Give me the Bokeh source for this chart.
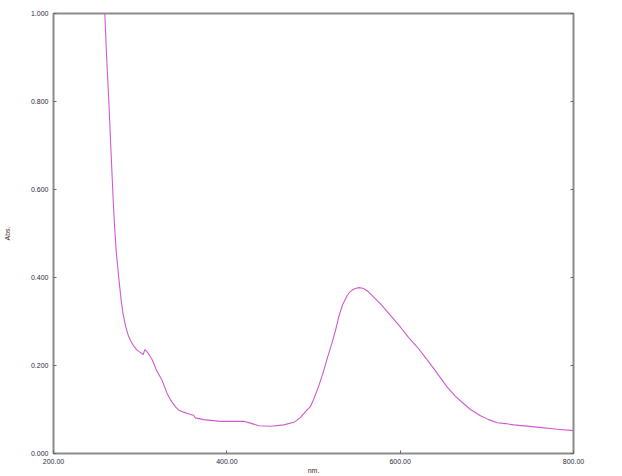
from bokeh.plotting import figure
from bokeh.models import LinearAxis, Range1d, FixedTicker, NumeralTickFormatter
from bokeh.embed import file_html
from bokeh.resources import INLINE

# Wavelength (nm) and absorbance
wavelength = [257.9, 259.2, 261.2, 263.8, 266.3, 268.9, 270.4, 272.3, 275.0, 278.1,
              280.2, 283.1, 286.0, 288.8, 292.3, 295.8, 299.2, 303.5, 305.3, 308.5,
              313.9, 318.8, 325.4, 331.2, 335.0, 340.8, 344.2, 350.0, 354.6, 361.5,
              363.8, 373.1, 392.7, 400.0, 406.5, 415.8, 419.6, 427.3, 436.9, 450.4,
              465.7, 477.3, 479.2, 485.0, 490.8, 496.5, 500.3, 505.8, 511.9, 516.1,
              521.6, 525.4, 529.2, 533.5, 538.9, 541.5, 545.0, 548.5, 552.3, 555.4,
              557.7, 563.8, 577.3, 588.8, 600.4, 609.6, 619.7, 629.2, 638.8, 654.3,
              663.8, 673.4, 681.2, 692.7, 702.0, 711.9, 721.5, 731.1, 758.1, 781.2,
              799.7]
absorbance = [1.050, 1.000, 0.905, 0.802, 0.689, 0.575, 0.518, 0.461, 0.405, 0.348,
              0.318, 0.290, 0.270, 0.257, 0.245, 0.236, 0.231, 0.225, 0.236, 0.230,
              0.213, 0.189, 0.166, 0.136, 0.122, 0.106, 0.099, 0.094, 0.091, 0.087,
              0.081, 0.077, 0.073, 0.073, 0.073, 0.073, 0.0734, 0.069, 0.063, 0.062,
              0.065, 0.071, 0.073, 0.082, 0.095, 0.107, 0.124, 0.152, 0.189, 0.218,
              0.253, 0.280, 0.311, 0.338, 0.359, 0.366, 0.372, 0.375, 0.377, 0.376,
              0.375, 0.367, 0.340, 0.314, 0.287, 0.264, 0.242, 0.218, 0.193, 0.151,
              0.130, 0.113, 0.100, 0.086, 0.077, 0.070, 0.068, 0.065, 0.060, 0.055,
              0.052]

x_ticks = [200, 400, 600, 800]
y_ticks = [0.0, 0.2, 0.4, 0.6, 0.8, 1.0]

p = figure(width=620, height=476, output_backend="svg", toolbar_location=None,
           x_range=Range1d(200, 800), y_range=Range1d(0, 1.0),
           min_border_left=53, min_border_right=47, min_border_top=13, min_border_bottom=23)

p.line(wavelength, absorbance, line_color="#d05ad0", line_width=1.1)

p.grid.visible = False
p.outline_line_color = "#8c8c8c"
p.outline_line_width = 2
p.background_fill_color = "white"
p.border_fill_color = "white"

font = "Liberation Sans"

xa = p.xaxis[0]
xa.ticker = FixedTicker(ticks=x_ticks)
xa.formatter = NumeralTickFormatter(format="0.00")
xa.axis_label = "nm."
ya = p.yaxis[0]
ya.ticker = FixedTicker(ticks=y_ticks)
ya.formatter = NumeralTickFormatter(format="0.000")
ya.axis_label = "Abs."

ra = LinearAxis(ticker=FixedTicker(ticks=y_ticks))
ra.major_label_text_alpha = 0
p.add_layout(ra, "right")

for ax in [xa, ya, ra]:
    ax.axis_line_color = None
    ax.major_tick_in = 3
    ax.major_tick_out = 0
    ax.major_tick_line_color = "#666666"
    ax.minor_tick_line_color = None
    ax.major_label_text_font = font
    ax.major_label_text_font_size = "7px"
    ax.major_label_text_color = "#2a2a3a"
    ax.axis_label_text_font = font
    ax.axis_label_text_font_size = "7px"
    ax.axis_label_text_font_style = "normal"
    ax.axis_label_text_color = "#4a2a1a"

xa.major_label_standoff = 5
xa.axis_label_standoff = 0
ya.major_label_standoff = 5
ya.axis_label_standoff = 17

open("out.html", "w").write(file_html(p, INLINE))
